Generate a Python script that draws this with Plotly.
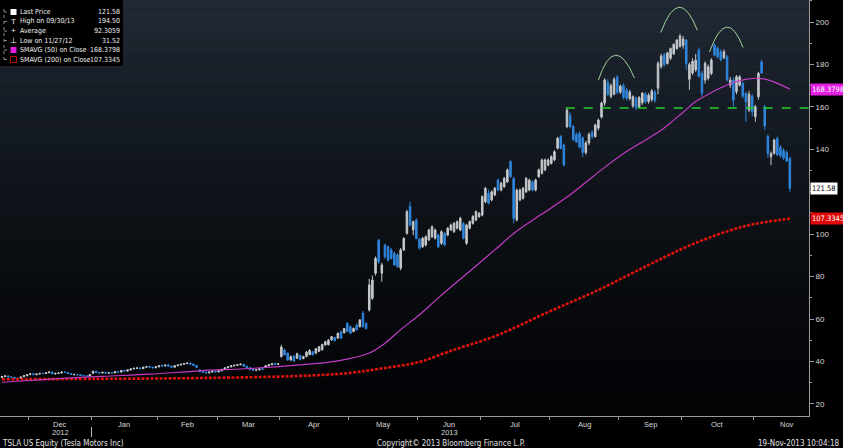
import plotly.graph_objects as go
import pandas as pd

# ---------------- data ----------------
holidays = ["2012-11-22", "2012-12-25", "2013-01-01", "2013-01-21", "2013-02-18",
            "2013-03-29", "2013-05-27", "2013-07-04", "2013-09-02"]
dates = [d for d in pd.bdate_range("2012-11-19", "2013-11-18")
         if d.strftime("%Y-%m-%d") not in holidays]

open_ = [32.5, 32.9, 33.2, 32.7, 32.5, 32.1, 32.0, 32.8, 33.3,
         33.9, 34.2, 33.8, 34.1, 34.4, 34.3, 34.7, 35.0, 34.2, 34.4, 34.6, 35.0, 34.8, 34.3, 33.8, 33.9, 33.7, 33.4, 33.2, 33.1,
         34.5, 35.4, 34.8, 34.6, 34.9, 34.5, 34.7, 34.6, 35.2, 35.0, 35.8, 35.5, 36.0, 36.5, 36.8, 36.9, 36.6, 37.3, 37.6, 37.3, 37.0,
         37.5, 38.0, 37.9, 38.3, 37.8, 37.3, 38.0, 38.4, 38.7, 39.0, 39.2, 38.8, 38.1, 36.0, 35.2, 34.9, 34.6, 35.0, 35.4,
         35.1, 35.6, 36.3, 37.0, 37.5, 38.0, 38.2, 38.5, 38.7, 37.8, 37.0, 36.2, 35.9, 36.1, 36.5, 37.3, 38.0, 38.5, 39.0, 38.6,
         42.3, 45.4, 43.9, 40.7, 42.5, 41.5, 42.8, 41.4, 42.3, 43.2, 44.6, 43.9, 44.8, 45.5, 47.8, 47.9, 50.2, 51.3, 51.0, 54.0, 53.5, 58.0,
         56.4, 54.1, 57.2, 56.4, 62.7, 58.0, 64.3, 69.8, 81.6, 97.3, 81.6, 94.9, 94.1, 92.6, 91.0, 90.2, 84.0, 92.6, 100.4, 113.0, 102.0, 106.7,
         97.6, 94.1, 94.9, 97.3, 98.8, 98.1, 99.6, 95.7, 100.4, 99.6, 102.0, 101.2, 102.8, 102.0, 105.1, 95.7, 102.8, 105.1, 106.7, 108.3,
         109.0, 115.3, 119.3, 116.1, 118.5, 125.5, 120.8, 122.4, 124.7, 134.2, 126.3, 106.7, 116.1, 116.9, 120.0, 120.8, 124.7, 120.8, 127.1, 128.7, 130.3, 132.6,
         133.4, 135.0, 140.5, 146.0, 142.0, 150.7, 156.0, 150.7, 147.0, 147.5, 145.5, 138.5, 143.0, 148.0, 146.0, 150.0, 155.2, 161.8, 171.5, 165.0, 166.0, 174.0,
         167.0, 170.0, 168.0, 164.0, 160.5, 164.0, 160.0, 162.0, 166.0, 162.5, 163.5, 167.0, 168.8, 179.0, 184.5, 180.5, 183.0, 185.0, 187.5, 188.5,
         189.0, 191.5, 173.0, 176.0, 177.5, 186.8, 175.8, 172.7, 173.5, 175.8, 189.2, 187.6, 186.0, 183.2, 183.6, 170.3, 172.7, 167.2, 170.3, 171.0, 166.4, 158.5, 165.0,
         155.4, 164.8, 181.3, 160.1, 146.0, 136.5, 138.1, 145.2, 141.0, 139.5, 138.5, 135.8]
high = [33.2, 33.5, 33.4, 33.0, 32.7, 32.3, 32.9, 33.5, 34.0,
        34.5, 34.4, 34.3, 34.6, 34.8, 34.9, 35.3, 35.2, 34.6, 34.8, 35.2, 35.4, 35.1, 34.6, 34.2, 34.1, 34.0, 33.7, 33.5, 34.0,
        35.6, 35.6, 35.0, 35.1, 35.1, 34.9, 35.0, 35.3, 35.6, 35.9, 36.0, 36.2, 36.7, 37.0, 37.2, 37.3, 37.5, 37.8, 38.0, 37.6, 37.7,
        38.3, 38.6, 38.5, 38.8, 38.0, 38.2, 38.6, 38.9, 39.3, 39.6, 39.5, 39.0, 38.3, 36.4, 35.6, 35.3, 35.2, 35.6, 35.9,
        35.8, 36.5, 37.2, 37.8, 38.2, 38.5, 38.8, 39.1, 38.9, 38.0, 37.3, 36.6, 36.4, 36.8, 37.5, 38.2, 38.7, 39.2, 39.4, 39.0,
        47.8, 46.0, 44.2, 42.8, 43.0, 44.2, 43.4, 42.7, 45.0, 45.8, 45.0, 46.4, 47.3, 48.4, 49.8, 50.6, 52.0, 51.6, 53.6, 54.6, 55.8, 58.5,
        57.0, 56.0, 57.8, 60.0, 63.8, 58.4, 79.0, 80.5, 89.5, 97.8, 86.5, 95.5, 94.6, 93.5, 91.8, 91.0, 93.5, 98.6, 111.5, 115.3, 106.5, 107.5,
        98.3, 98.8, 99.5, 102.6, 104.2, 102.7, 100.3, 101.8, 101.0, 103.4, 105.0, 105.8, 106.5, 108.2, 105.8, 104.9, 106.5, 109.0, 111.2, 110.5,
        118.4, 122.3, 121.0, 120.7, 122.3, 126.2, 124.7, 127.0, 131.0, 134.9, 127.0, 121.5, 121.5, 122.3, 127.0, 126.2, 125.4, 126.2, 131.0, 135.7, 135.7, 135.7,
        137.2, 139.6, 145.9, 146.7, 142.7, 159.3, 157.5, 151.5, 148.0, 148.5, 146.0, 144.0, 148.0, 149.0, 152.0, 154.5, 162.5, 173.5, 173.0, 171.0, 174.0, 175.0,
        170.5, 171.0, 169.0, 168.0, 165.5, 165.0, 165.0, 167.0, 167.0, 166.5, 168.5, 168.0, 181.5, 185.0, 185.5, 186.0, 188.0, 190.0, 192.0, 194.5,
        193.5, 192.0, 181.0, 183.0, 185.0, 188.0, 177.0, 181.5, 180.0, 183.0, 190.0, 188.5, 187.0, 187.0, 184.5, 174.0, 174.0, 175.0, 175.0, 172.0, 167.0, 167.5, 166.0,
        161.0, 176.5, 182.2, 161.0, 147.0, 139.0, 145.0, 146.0, 142.0, 140.5, 139.5, 136.5]
low = [32.2, 32.6, 32.5, 32.3, 31.9, 31.52, 31.8, 32.6, 33.0,
       33.5, 33.6, 33.5, 33.9, 34.0, 34.1, 34.5, 34.0, 33.8, 34.1, 34.4, 34.6, 34.2, 33.8, 33.4, 33.6, 33.2, 32.9, 32.9, 33.0,
       34.1, 34.6, 34.3, 34.4, 34.3, 34.2, 34.4, 34.5, 34.9, 34.9, 35.3, 35.3, 35.8, 36.2, 36.5, 36.4, 36.5, 37.0, 37.1, 36.7, 36.9,
       37.2, 37.6, 37.7, 37.6, 37.0, 37.2, 37.8, 38.1, 38.5, 38.7, 38.6, 37.9, 37.0, 34.9, 34.5, 34.4, 34.4, 34.8, 34.9,
       34.9, 35.4, 36.1, 36.8, 37.2, 37.6, 37.9, 38.2, 37.5, 36.8, 36.0, 35.5, 35.4, 35.8, 35.9, 36.9, 37.7, 38.2, 38.4, 38.3,
       41.8, 42.8, 40.3, 40.3, 39.8, 41.2, 40.5, 41.0, 42.0, 43.0, 42.9, 43.6, 44.5, 45.2, 47.5, 47.6, 49.8, 49.5, 50.7, 50.7, 53.2, 53.8,
       53.0, 53.8, 54.6, 56.0, 56.0, 55.0, 63.5, 69.0, 80.5, 86.0, 77.6, 88.5, 87.0, 88.0, 85.0, 84.2, 83.0, 92.0, 99.8, 103.5, 99.5, 97.5,
       92.8, 93.5, 94.2, 96.8, 98.2, 97.5, 93.5, 95.0, 94.3, 99.0, 101.5, 100.6, 102.2, 101.4, 97.5, 94.9, 102.2, 104.5, 106.1, 107.7,
       108.4, 114.6, 114.0, 115.5, 117.9, 120.2, 120.2, 121.8, 124.1, 126.5, 105.1, 106.0, 115.5, 116.3, 119.4, 120.2, 120.2, 120.2, 126.5, 128.1, 129.7, 132.0,
       132.8, 134.4, 139.9, 139.9, 132.0, 150.0, 150.0, 144.0, 143.0, 140.5, 136.4, 137.5, 142.0, 145.0, 145.5, 149.0, 154.5, 160.5, 165.0, 164.0, 165.5, 166.0,
       166.0, 163.5, 163.0, 163.0, 159.5, 158.5, 159.5, 161.0, 161.5, 161.5, 162.5, 162.0, 166.0, 178.0, 179.0, 180.0, 182.0, 184.5, 187.0, 188.0,
       187.5, 177.4, 168.0, 175.0, 176.5, 174.0, 164.8, 171.0, 172.5, 175.0, 184.0, 183.0, 181.5, 182.5, 172.0, 169.0, 160.1, 166.0, 169.5, 164.0, 153.0, 157.5, 155.5,
       153.0, 163.5, 175.5, 149.0, 136.0, 132.6, 137.5, 137.0, 136.0, 135.0, 134.0, 120.0]
close = [32.9, 33.2, 32.7, 32.6, 32.1, 32.0, 32.7, 33.3, 33.8,
         34.2, 33.8, 34.1, 34.4, 34.3, 34.7, 35.0, 34.2, 34.4, 34.6, 35.0, 34.8, 34.3, 34.0, 33.9, 33.7, 33.4, 33.3, 33.1, 33.9,
         35.4, 34.8, 34.6, 34.9, 34.5, 34.7, 34.6, 35.2, 35.0, 35.8, 35.5, 36.0, 36.5, 36.8, 36.9, 36.6, 37.3, 37.6, 37.3, 37.0, 37.5,
         38.0, 37.9, 38.3, 37.8, 37.3, 38.0, 38.4, 38.7, 39.0, 39.2, 38.8, 38.1, 37.2, 35.2, 34.9, 34.6, 35.0, 35.4, 35.1,
         35.6, 36.3, 37.0, 37.5, 38.0, 38.2, 38.5, 38.7, 37.8, 37.0, 36.2, 35.9, 36.1, 36.5, 36.3, 38.0, 38.5, 39.0, 38.6, 38.9,
         46.8, 43.1, 40.7, 42.3, 40.2, 43.6, 40.9, 42.3, 44.4, 45.2, 43.1, 46.0, 47.0, 48.0, 49.3, 50.0, 51.7, 49.8, 53.3, 51.0, 55.5, 54.2,
         53.3, 55.6, 54.9, 59.6, 56.4, 55.6, 76.1, 78.4, 88.6, 87.0, 85.5, 89.4, 87.8, 88.6, 85.5, 84.7, 92.6, 98.0, 110.6, 104.3, 105.9, 98.0,
         93.4, 98.1, 98.8, 102.0, 103.5, 102.0, 94.1, 101.2, 94.9, 102.8, 104.3, 105.1, 105.9, 107.5, 98.1, 104.3, 105.9, 108.3, 110.6, 109.8,
         117.7, 121.6, 114.6, 120.0, 121.6, 120.8, 124.0, 126.3, 130.3, 127.1, 107.5, 120.8, 120.8, 121.6, 126.3, 125.5, 120.8, 125.5, 130.3, 135.0, 135.0, 135.0,
         136.5, 138.9, 145.2, 140.5, 132.6, 158.5, 150.7, 144.5, 143.5, 141.0, 138.5, 143.0, 147.0, 146.0, 151.5, 153.8, 161.8, 172.7, 166.0, 170.0, 173.0, 166.8,
         169.8, 164.5, 164.0, 167.0, 164.8, 159.8, 164.5, 166.5, 162.5, 165.5, 167.5, 163.0, 180.5, 184.0, 180.0, 185.5, 187.5, 189.5, 191.5, 193.4,
         192.0, 180.5, 180.0, 181.5, 182.0, 174.5, 166.5, 180.5, 178.9, 182.1, 184.4, 183.6, 182.1, 186.0, 172.7, 172.7, 163.2, 174.2, 174.2, 165.0, 162.4, 166.0, 157.7,
         160.1, 175.8, 176.0, 151.0, 138.1, 138.1, 144.4, 137.3, 137.0, 136.0, 134.5, 121.58]

# moving averages (trading-day index, value)
sma50_idx = [0, 18, 32, 47, 63, 79, 95, 107, 117, 122, 127, 133, 139, 149, 157, 164, 172, 180,
             186, 192, 198, 204, 209, 213, 217, 221, 225, 229, 233, 237, 241, 245, 251]
sma50_val = [30.2, 31.9, 33.0, 34.0, 35.6, 36.7, 38.4, 40.3, 44.0, 48.6, 55.0, 62.0, 70.0, 82.5, 92.6, 101.5, 109.5, 117.5,
             124.5, 131.5, 138.0, 143.5, 148.0, 152.5, 157.5, 162.5, 166.0, 169.0, 171.5, 173.0, 173.5, 172.3, 168.3798]
sma200_idx = [0, 30, 63, 95, 110, 120, 133, 142, 158, 174, 190, 206, 221, 237, 251]
sma200_val = [31.6, 31.8, 32.2, 33.2, 34.5, 36.5, 39.8, 44.5, 52.5, 63.3, 73.7, 85.5, 95.9, 103.9, 107.3345]

legend_labels = ["Last Price", "High on 09/30/13", "Average", "Low on 11/27/12",
                 "SMAVG (50) on Close", "SMAVG (200) on Close"]
legend_values = ["121.58", "194.50", "92.3059", "31.52", "168.3798", "107.3345"]
neckline = 159.5
y_ticks = [20, 40, 60, 80, 100, 120, 140, 160, 180, 200]
y_ticktext = ["20", "40", "60", "80", "100", "", "140", "160", "180", "200"]

# ---------------- figure ----------------
n = min(len(dates), len(open_), len(high), len(low), len(close))
x = list(range(n))
W, H = 843, 448
ML, MR, MT, MB = 0, 34, 0, 32
PW, PH = W - ML - MR, H - MT - MB
XR = [-0.64, 257.1]
YR = [14.3, 210.4]


def px(xp):
    return xp / PW


def py(yp):
    return 1 - yp / PH


fig = go.Figure()

# gradient background
shapes = []
nb = 48
top = (33, 42, 54)
bot = (3, 4, 6)
for k in range(nb):
    t = (k + 0.5) / nb
    f = (1 - t) ** 1.4
    c = tuple(int(bot[j] + (top[j] - bot[j]) * f) for j in range(3))
    shapes.append(dict(type="rect", xref="paper", yref="paper", x0=0, x1=1,
                       y0=1 - (k + 1) / nb, y1=1 - k / nb, fillcolor="rgb(%d,%d,%d)" % c,
                       line=dict(width=0), layer="below"))

fig.add_trace(go.Scatter(x=sma200_idx, y=sma200_val, mode="lines",
                         line=dict(color="#e0140c", width=2.6, dash="3px,1.5px", shape="spline"),
                         hoverinfo="skip", showlegend=False))
fig.add_trace(go.Scatter(x=sma50_idx, y=sma50_val, mode="lines",
                         line=dict(color="#c23cc4", width=1.2, shape="spline"),
                         hoverinfo="skip", showlegend=False))
fig.add_trace(go.Candlestick(
    x=x, open=open_[:n], high=high[:n], low=low[:n], close=close[:n],
    increasing=dict(line=dict(color="#c4c8cc", width=1), fillcolor="#c4c8cc"),
    decreasing=dict(line=dict(color="#2f86dc", width=1), fillcolor="#2f86dc"),
    whiskerwidth=0, showlegend=False,
    text=[d.strftime("%d %b %Y") for d in dates[:n]], hoverinfo="text+y"))

# neckline
shapes.append(dict(type="line", xref="x", yref="y", x0=179.6, x1=XR[1], y0=neckline, y1=neckline,
                   line=dict(color="#22d22a", width=1.6, dash="dash")))

# head & shoulders arcs (index, value): start, apex, end
arcs = [((190.0, 172.7), (195.5, 184.4), (201.5, 173.6)),
        ((209.9, 195.1), (215.7, 207.0), (221.5, 196.2)),
        ((225.4, 185.9), (230.8, 197.6), (236.1, 188.0))]
for (a, b, c) in arcs:
    cx = 2 * b[0] - (a[0] + c[0]) / 2
    cy = 2 * b[1] - (a[1] + c[1]) / 2
    shapes.append(dict(type="path", xref="x", yref="y",
                       path="M %f,%f Q %f,%f %f,%f" % (a[0], a[1], cx, cy, c[0], c[1]),
                       line=dict(color="#9fd49a", width=1)))

# legend box
shapes.append(dict(type="rect", xref="paper", yref="paper", x0=0, x1=px(123), y0=py(66), y1=1,
                   fillcolor="#000000", line=dict(width=0), layer="above"))
shapes.append(dict(type="line", xref="paper", yref="paper", x0=px(4), x1=px(4), y0=py(9), y1=py(60),
                   line=dict(color="#8a8a8a", width=1, dash="dot"), layer="above"))
row_y = [12, 21.5, 31, 40.5, 50, 59.5]
for ry in row_y:
    shapes.append(dict(type="line", xref="paper", yref="paper", x0=px(4), x1=px(9), y0=py(ry), y1=py(ry),
                       line=dict(color="#8a8a8a", width=1, dash="dot"), layer="above"))
shapes.append(dict(type="rect", xref="paper", yref="paper", x0=px(10.5), x1=px(16.5), y0=py(15), y1=py(9),
                   fillcolor="#ffffff", line=dict(width=0), layer="above"))
shapes.append(dict(type="rect", xref="paper", yref="paper", x0=px(10.5), x1=px(16.5), y0=py(53), y1=py(47),
                   fillcolor="#e21ee2", line=dict(width=0), layer="above"))
shapes.append(dict(type="rect", xref="paper", yref="paper", x0=px(10.5), x1=px(16.5), y0=py(62.5), y1=py(56.5),
                   fillcolor="rgba(0,0,0,0)", line=dict(color="#b01010", width=1), layer="above"))

# year separator under axis
shapes.append(dict(type="line", xref="x", yref="paper", x0=28.5, x1=28.5, y0=py(427), y1=py(437),
                   line=dict(color="#bbbbbb", width=1)))

fig.update_layout(shapes=shapes)

FONT = "Liberation Sans, Arial, sans-serif"
NARROW = "Liberation Sans Narrow, Arial Narrow, DejaVu Sans Condensed, Liberation Sans, sans-serif"
ann = []
icons = ["", "T", "+", "\u22a5", "", ""]
for k, (lab, val) in enumerate(zip(legend_labels, legend_values)):
    ann.append(dict(xref="paper", yref="paper", x=px(18), y=py(row_y[k]), xanchor="left", yanchor="middle",
                    text=lab, showarrow=False, font=dict(family=NARROW, size=7, color="#f0f0f0")))
    ann.append(dict(xref="paper", yref="paper", x=px(122), y=py(row_y[k]), xanchor="right", yanchor="middle",
                    text=val, showarrow=False, font=dict(family=NARROW, size=7, color="#f0f0f0")))
    if icons[k]:
        ann.append(dict(xref="paper", yref="paper", x=px(13.5), y=py(row_y[k]), xanchor="center", yanchor="middle",
                        text=icons[k], showarrow=False, font=dict(family=FONT, size=8, color="#f0f0f0")))

# right-side value tags
tags = [(sma50_val[-1], "%.4f" % sma50_val[-1], "#e21ee2", "#ffffff"),
        (close[n - 1], "%.2f" % close[n - 1], "#ffffff", "#000000"),
        (sma200_val[-1], "%.4f" % sma200_val[-1], "#e00808", "#ffffff")]
for v, t, bg, fg in tags:
    ann.append(dict(xref="paper", yref="y", x=1, y=v, xanchor="left", yanchor="middle", xshift=1,
                    text=t, showarrow=False, bgcolor=bg, borderpad=1,
                    font=dict(family=NARROW, size=7.5, color=fg)))

# footer
ann.append(dict(xref="paper", yref="paper", x=0, y=0, xanchor="left", yanchor="middle", yshift=-27.5,
                text="TSLA US Equity (Tesla Motors Inc)", showarrow=False,
                font=dict(family=NARROW, size=8, color="#e0e0e0")))
ann.append(dict(xref="paper", yref="paper", x=px(451), y=0, xanchor="center", yanchor="middle", yshift=-27.5,
                text="Copyright\u00a9 2013 Bloomberg Finance L.P.", showarrow=False,
                font=dict(family=NARROW, size=8, color="#e0e0e0")))
ann.append(dict(xref="paper", yref="paper", x=px(842), y=0, xanchor="right", yanchor="middle", yshift=-27.5,
                text="19-Nov-2013 10:04:18", showarrow=False,
                font=dict(family=NARROW, size=8, color="#e0e0e0")))

# month labels centred on each month; year under Dec and Jun
months = {}
for i, d in enumerate(dates[:n]):
    months.setdefault((d.year, d.month), []).append(i)
keys = sorted(months)
bounds = []
for (yy, mm) in keys:
    idx = months[(yy, mm)]
    if (yy, mm) == keys[0]:
        continue
    bounds.append(idx[0] - 0.5)
    pos = idx[0] - 0.5 + 10.5 if (yy, mm) == keys[-1] else sum(idx) / len(idx)
    lab = pd.Timestamp(yy, mm, 1).strftime("%b")
    ann.append(dict(xref="x", yref="paper", x=pos, y=py(424), xanchor="center", yanchor="middle",
                    text=lab, showarrow=False, font=dict(family=FONT, size=7.5, color="#d8d8d8")))
    if mm in (12, 6):
        ann.append(dict(xref="x", yref="paper", x=pos, y=py(432.5), xanchor="center", yanchor="middle",
                        text=str(yy), showarrow=False, font=dict(family=FONT, size=7.5, color="#d8d8d8")))

fig.update_layout(annotations=ann)

fig.update_layout(
    width=W, height=H,
    margin=dict(l=ML, r=MR, t=MT, b=MB),
    paper_bgcolor="#000000", plot_bgcolor="#0a0d11",
    showlegend=False,
    xaxis=dict(range=XR, showgrid=False, zeroline=False, rangeslider=dict(visible=False),
               showline=True, linecolor="#9a9a9a", linewidth=1,
               tickmode="array", tickvals=bounds, ticktext=[""] * len(bounds),
               ticks="outside", ticklen=3, tickcolor="#9a9a9a"),
    yaxis=dict(range=YR, side="right", showgrid=False, zeroline=False,
               showline=True, linecolor="#9a9a9a", linewidth=1,
               tickmode="array", tickvals=y_ticks, ticktext=y_ticktext,
               ticks="outside", ticklen=4, tickcolor="#9a9a9a",
               tickfont=dict(family=FONT, size=8, color="#d8d8d8"),
               minor=dict(dtick=10, tick0=10, ticks="outside", ticklen=2, tickcolor="#9a9a9a", showgrid=False)),
)

fig.write_html("out.html")
